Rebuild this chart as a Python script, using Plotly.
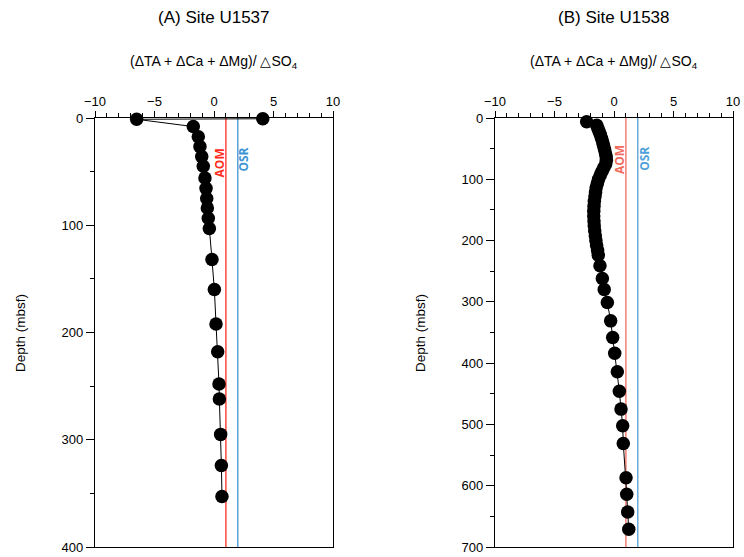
import plotly.graph_objects as go

# ---------------- data ----------------
depth_a = [0.7, 1.2, 8, 17.4, 26.7, 36, 45, 56, 65.6, 75, 84, 93.5, 103, 132,
           160, 192, 218, 248, 262, 295, 324, 353]
ratio_a = [4.1, -6.5, -1.74, -1.32, -1.18, -1.03, -0.9, -0.76, -0.67, -0.61,
           -0.56, -0.48, -0.39, -0.17, 0.03, 0.17, 0.31, 0.42, 0.45, 0.56, 0.62, 0.67]

depth_b = [6, 12, 17, 22, 27, 33, 39, 45, 51, 57, 63, 69, 75, 81, 87, 93, 100,
           107, 114, 121, 128, 136, 144, 152, 160, 168, 176, 184, 192, 200, 208,
           216, 224, 241, 262, 280, 301, 331, 358, 384, 414, 446, 475, 502, 531,
           587, 614, 643, 671]
ratio_b = [-2.3, -1.45, -1.35, -1.25, -1.15, -1.05, -0.95, -0.88, -0.8, -0.72,
           -0.66, -0.64, -0.7, -0.85, -1.0, -1.15, -1.3, -1.4, -1.5, -1.55, -1.6,
           -1.65, -1.68, -1.7, -1.7, -1.68, -1.66, -1.62, -1.57, -1.52, -1.46,
           -1.38, -1.32, -1.18, -0.98, -0.82, -0.56, -0.28, -0.11, 0.06, 0.28,
           0.45, 0.59, 0.73, 0.78, 1.01, 1.07, 1.15, 1.24]

aom_value = 1
osr_value = 2
titles = ["(A) Site U1537", "(B) Site U1538"]
x_title = "(ΔTA + ΔCa + ΔMg)/ △SO<sub>4</sub>"
y_title = "Depth (mbsf)"
x_range = [-10, 10]
y_max = [400, 700]

FONT = "Liberation Sans, Arial, Helvetica, sans-serif"

fig = go.Figure()
for i, (d, r) in enumerate([(depth_a, ratio_a), (depth_b, ratio_b)]):
    sfx = "" if i == 0 else "2"
    fig.add_trace(go.Scatter(
        x=r, y=d, mode="lines+markers", xaxis="x" + sfx, yaxis="y" + sfx,
        line=dict(color="black", width=1),
        marker=dict(color="black", size=13.5),
        cliponaxis=False, showlegend=False))

dom_a = [0, 238 / 638]
dom_b = [400 / 638, 1]

def xax(domain, anchor):
    return dict(domain=domain, anchor=anchor, range=x_range, side="top",
                tickmode="array", tickvals=[-10, -5, 0, 5, 10],
                ticks="outside", ticklen=6, tickwidth=1, tickcolor="black",
                minor=dict(dtick=1, ticks="outside", ticklen=4, tickwidth=1, tickcolor="black"),
                showline=True, linecolor="black", linewidth=1.3, mirror=True,
                showgrid=False, zeroline=False, automargin=False,
                tickfont=dict(family=FONT, size=13, color="black"))

def yax(rng, anchor):
    return dict(domain=[0, 1], anchor=anchor, range=[rng, 0], dtick=100,
                ticks="outside", ticklen=8, tickwidth=1, tickcolor="black",
                minor=dict(dtick=50, ticks="outside", ticklen=4, tickwidth=1, tickcolor="black"),
                showline=True, linecolor="black", linewidth=1.3, mirror=True,
                showgrid=False, zeroline=False, automargin=False,
                tickfont=dict(family=FONT, size=13, color="black"))

fig.update_layout(
    width=744, height=557,
    margin=dict(l=95, r=11, t=118, b=10),
    paper_bgcolor="white", plot_bgcolor="white",
    xaxis=xax(dom_a, "y"), yaxis=yax(y_max[0], "x"),
    xaxis2=xax(dom_b, "y2"), yaxis2=yax(y_max[1], "x2"),
)

shapes = []
annotations = []
line_cols = [("#ff2d1e", "#3d94d4"), ("#f36a5c", "#4f9fd8")]
label_depth = [(42, 39), (68, 67)]
for i, dom in enumerate([dom_a, dom_b]):
    sfx = "" if i == 0 else "2"
    aom_c, osr_c = line_cols[i]
    for val, col in [(aom_value, aom_c), (osr_value, osr_c)]:
        shapes.append(dict(type="line", xref="x" + sfx, yref="y" + sfx + " domain",
                           x0=val, x1=val, y0=0, y1=1,
                           line=dict(color=col, width=1.3), layer="below"))
    annotations.append(dict(xref="x" + sfx, yref="y" + sfx, x=aom_value - 0.55,
                            y=label_depth[i][0], text="<b>AOM</b>", textangle=-90,
                            xanchor="center", yanchor="middle",
                            showarrow=False, font=dict(family="Open Sans, " + FONT, size=12, color=aom_c)))
    annotations.append(dict(xref="x" + sfx, yref="y" + sfx, x=osr_value + 0.5,
                            y=label_depth[i][1], text="<b>OSR</b>", textangle=-90,
                            xanchor="center", yanchor="middle",
                            showarrow=False, font=dict(family="Open Sans, " + FONT, size=12, color=osr_c)))
    cx = (dom[0] + dom[1]) / 2
    annotations.append(dict(xref="paper", yref="paper", x=cx, y=(547 - 18) / 429,
                            text=titles[i], showarrow=False, xanchor="center", yanchor="middle",
                            font=dict(family=FONT, size=17, color="black")))
    annotations.append(dict(xref="paper", yref="paper", x=cx, y=(547 - 62) / 429,
                            text=x_title, showarrow=False, xanchor="center", yanchor="middle",
                            font=dict(family=FONT, size=14, color="black")))
    annotations.append(dict(xref="paper", yref="paper", x=dom[0] - 75 / 638, y=(547 - 333) / 429,
                            text=y_title, showarrow=False, textangle=-90,
                            xanchor="center", yanchor="middle",
                            font=dict(family=FONT, size=13.5, color="black")))

fig.update_layout(shapes=shapes, annotations=annotations)
fig.write_html("out.html")
